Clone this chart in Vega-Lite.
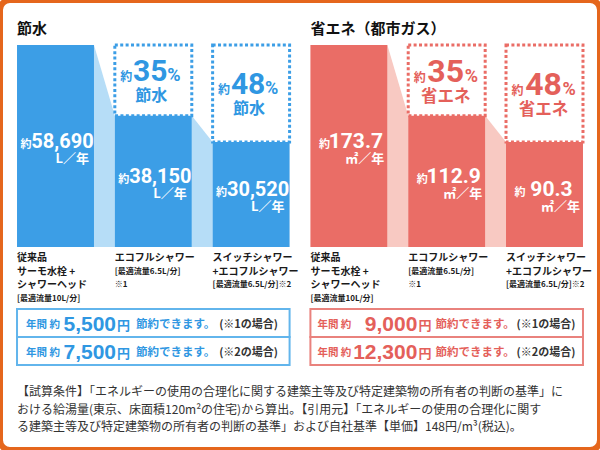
{
"$schema":"https://vega.github.io/schema/vega-lite/v6.json",
"width":600,"height":450,"padding":0,
"autosize":{"type":"fit","contains":"padding"},
"background":"#ffffff",
"config":{"view":{"stroke":"#e5661c","strokeWidth":6,"cornerRadius":10},"text":{"font":"Noto Sans CJK JP"}},
"datasets":{
"water":[
{"cat":"w1","value":58690,"base":58690,"num":"58,690","pct":""},
{"cat":"w2","value":38150,"base":58690,"num":"38,150","pct":"35"},
{"cat":"w3","value":30520,"base":58690,"num":"30,520","pct":"48"}],
"gas":[
{"cat":"g1","value":173.7,"base":173.7,"num":"173.7","pct":""},
{"cat":"g2","value":112.9,"base":173.7,"num":"112.9","pct":"35"},
{"cat":"g3","value":90.3,"base":173.7,"num":"90.3","pct":"48"}],
"labels":[
{"cat":"w1","line":1,"kind":"main","text":"従来品"},
{"cat":"w1","line":2,"kind":"main","text":"サーモ水栓 +"},
{"cat":"w1","line":3,"kind":"main","text":"シャワーヘッド"},
{"cat":"w1","line":4,"kind":"note","text":"[最適流量10L/分]"},
{"cat":"w2","line":1,"kind":"main","text":"エコフルシャワー"},
{"cat":"w2","line":2,"kind":"note","text":"[最適流量6.5L/分]"},
{"cat":"w2","line":3,"kind":"note","text":"※1"},
{"cat":"w3","line":1,"kind":"main","text":"スイッチシャワー"},
{"cat":"w3","line":2,"kind":"main","text":"+エコフルシャワー"},
{"cat":"w3","line":3,"kind":"note","text":"[最適流量6.5L/分]※2"},
{"cat":"g1","line":1,"kind":"main","text":"従来品"},
{"cat":"g1","line":2,"kind":"main","text":"サーモ水栓 +"},
{"cat":"g1","line":3,"kind":"main","text":"シャワーヘッド"},
{"cat":"g1","line":4,"kind":"note","text":"[最適流量10L/分]"},
{"cat":"g2","line":1,"kind":"main","text":"エコフルシャワー"},
{"cat":"g2","line":2,"kind":"note","text":"[最適流量6.5L/分]"},
{"cat":"g2","line":3,"kind":"note","text":"※1"},
{"cat":"g3","line":1,"kind":"main","text":"スイッチシャワー"},
{"cat":"g3","line":2,"kind":"main","text":"+エコフルシャワー"},
{"cat":"g3","line":3,"kind":"note","text":"[最適流量6.5L/分]※2"}],
"wconn":[{"pair":1,"cat":"w1","edge":1,"value":58690},{"pair":1,"cat":"w2","edge":0,"value":38150},{"pair":2,"cat":"w2","edge":1,"value":38150},{"pair":2,"cat":"w3","edge":0,"value":30520}],
"gconn":[{"pair":1,"cat":"g1","edge":1,"value":173.7},{"pair":1,"cat":"g2","edge":0,"value":112.9},{"pair":2,"cat":"g2","edge":1,"value":112.9},{"pair":2,"cat":"g3","edge":0,"value":90.3}],
"wsave":[{"case":"※1","amount":"5,500","tail":"(※1の場合)"},{"case":"※2","amount":"7,500","tail":"(※2の場合)"}],
"gsave":[{"case":"※1","amount":"9,000","tail":"(※1の場合)"},{"case":"※2","amount":"12,300","tail":"(※2の場合)"}],
"notes":[{"line":1,"text":"【試算条件】「エネルギーの使用の合理化に関する建築主等及び特定建築物の所有者の判断の基準」に"},{"line":2,"text":"おける給湯量(東京、床面積120m²の住宅)から算出。【引用元】「エネルギーの使用の合理化に関す"},{"line":3,"text":"る建築主等及び特定建築物の所有者の判断の基準」および自社基準【単価】148円/m³(税込)。"}]
},
"resolve":{"scale":{"y":"independent","xOffset":"independent"}},
"layer":[
{"data":{"name":"wconn"},"mark":{"type":"area","color":"#b6ddf7"},"encoding":{"x":{"field":"cat","type":"nominal","bandPosition":0,"scale":{"type":"band","domain":["w1","w2","w3","g1","g2","g3"],"paddingInner":0.213,"paddingOuter":0.174},"axis":null},"xOffset":{"field":"edge","type":"quantitative","scale":{"domain":[0,1]}},"y":{"field":"value","type":"quantitative","stack":null,"scale":{"domain":[-58981,71766],"nice":false,"zero":false},"axis":null},"detail":{"field":"pair","type":"nominal"}}},
{"data":{"name":"water"},"transform":[{"filter":"datum.value < datum.base"}],"mark":{"type":"rect","filled":false,"stroke":"#3c9ee6","strokeWidth":3,"strokeDash":[3,2.4]},"encoding":{"x":{"field":"cat","type":"nominal","scale":{"type":"band","domain":["w1","w2","w3","g1","g2","g3"],"paddingInner":0.213,"paddingOuter":0.174},"axis":null},"y":{"field":"value","type":"quantitative","scale":{"domain":[-58981,71766],"nice":false,"zero":false},"axis":null},"y2":{"field":"base"}}},
{"data":{"name":"water"},"mark":{"type":"bar","color":"#3c9ee6"},"encoding":{"x":{"field":"cat","type":"nominal","scale":{"type":"band","domain":["w1","w2","w3","g1","g2","g3"],"paddingInner":0.213,"paddingOuter":0.174},"axis":null},"y":{"field":"value","type":"quantitative","stack":null,"scale":{"domain":[-58981,71766],"nice":false,"zero":false},"axis":null}}},
{"data":{"name":"water"},"mark":{"type":"text","text":"約","align":"right","baseline":"alphabetic","dx":-24,"dy":2,"fontSize":11,"fontWeight":"bold","color":"#ffffff"},"encoding":{"x":{"field":"cat","type":"nominal","bandPosition":0.5,"scale":{"type":"band","domain":["w1","w2","w3","g1","g2","g3"],"paddingInner":0.213,"paddingOuter":0.174},"axis":null},"y":{"field":"value","type":"quantitative","scale":{"domain":[-117962,143532],"nice":false,"zero":false},"axis":null}}},
{"data":{"name":"water"},"mark":{"type":"text","align":"center","baseline":"alphabetic","dx":7,"dy":2,"fontSize":20,"font":"Roboto","fontWeight":"bold","color":"#ffffff"},"encoding":{"text":{"field":"num"},"x":{"field":"cat","type":"nominal","bandPosition":0.5,"scale":{"type":"band","domain":["w1","w2","w3","g1","g2","g3"],"paddingInner":0.213,"paddingOuter":0.174},"axis":null},"y":{"field":"value","type":"quantitative","scale":{"domain":[-117962,143532],"nice":false,"zero":false},"axis":null}}},
{"data":{"name":"water"},"mark":{"type":"text","text":"L／年","align":"right","baseline":"alphabetic","dx":-5,"dy":17,"fontSize":13,"fontWeight":"bold","color":"#ffffff"},"encoding":{"x":{"field":"cat","type":"nominal","bandPosition":1,"scale":{"type":"band","domain":["w1","w2","w3","g1","g2","g3"],"paddingInner":0.213,"paddingOuter":0.174},"axis":null},"y":{"field":"value","type":"quantitative","scale":{"domain":[-117962,143532],"nice":false,"zero":false},"axis":null}}},
{"data":{"name":"water"},"transform":[{"filter":"datum.pct != ''"}],"mark":{"type":"text","text":"約","align":"right","baseline":"alphabetic","dx":-21,"dy":1,"fontSize":12,"fontWeight":"bold","color":"#2f97e2"},"encoding":{"x":{"field":"cat","type":"nominal","bandPosition":0.5,"scale":{"type":"band","domain":["w1","w2","w3","g1","g2","g3"],"paddingInner":0.213,"paddingOuter":0.174},"axis":null},"y":{"field":"value","type":"quantitative","scale":{"domain":[-176652,84842],"nice":false,"zero":false},"axis":null}}},
{"data":{"name":"water"},"transform":[{"filter":"datum.pct != ''"}],"mark":{"type":"text","align":"center","baseline":"alphabetic","dx":-3,"dy":1,"fontSize":30,"font":"Roboto","fontWeight":"bold","color":"#2f97e2"},"encoding":{"text":{"field":"pct"},"x":{"field":"cat","type":"nominal","bandPosition":0.5,"scale":{"type":"band","domain":["w1","w2","w3","g1","g2","g3"],"paddingInner":0.213,"paddingOuter":0.174},"axis":null},"y":{"field":"value","type":"quantitative","scale":{"domain":[-176652,84842],"nice":false,"zero":false},"axis":null}}},
{"data":{"name":"water"},"transform":[{"filter":"datum.pct != ''"}],"mark":{"type":"text","text":"%","align":"left","baseline":"alphabetic","dx":14,"dy":1,"fontSize":18,"font":"Roboto","fontWeight":"bold","color":"#2f97e2"},"encoding":{"x":{"field":"cat","type":"nominal","bandPosition":0.5,"scale":{"type":"band","domain":["w1","w2","w3","g1","g2","g3"],"paddingInner":0.213,"paddingOuter":0.174},"axis":null},"y":{"field":"value","type":"quantitative","scale":{"domain":[-176652,84842],"nice":false,"zero":false},"axis":null}}},
{"data":{"name":"water"},"transform":[{"filter":"datum.pct != ''"}],"mark":{"type":"text","text":"節水","align":"center","baseline":"middle","dx":-2,"dy":16,"fontSize":16,"fontWeight":"bold","color":"#2f97e2"},"encoding":{"x":{"field":"cat","type":"nominal","bandPosition":0.5,"scale":{"type":"band","domain":["w1","w2","w3","g1","g2","g3"],"paddingInner":0.213,"paddingOuter":0.174},"axis":null},"y":{"field":"value","type":"quantitative","scale":{"domain":[-176652,84842],"nice":false,"zero":false},"axis":null}}},
{"data":{"values":[{"t":"節水"}]},"mark":{"type":"text","align":"left","baseline":"middle","dy":-16,"fontSize":15,"fontWeight":"bold","color":"#111111"},"encoding":{"text":{"field":"t"},"x":{"datum":"w1","type":"nominal","bandPosition":0,"scale":{"type":"band","domain":["w1","w2","w3","g1","g2","g3"],"paddingInner":0.213,"paddingOuter":0.174},"axis":null},"y":{"datum":58690,"type":"quantitative","scale":{"domain":[-58981,71766],"nice":false,"zero":false},"axis":null}}},
{"data":{"name":"wsave"},"mark":{"type":"rect","fill":"#ffffff","stroke":"#62b5ec","strokeWidth":2},"encoding":{"x":{"datum":"w1","type":"nominal","bandPosition":0,"scale":{"type":"band","domain":["w1","w2","w3","g1","g2","g3"],"paddingInner":0.213,"paddingOuter":0.174},"axis":null},"x2":{"datum":"w3","bandPosition":1},"y":{"field":"case","type":"nominal","scale":{"type":"band","domain":["※1","※2"],"range":[309,365],"paddingInner":0,"paddingOuter":0},"axis":null}}},
{"data":{"name":"wsave"},"mark":{"type":"text","text":"年間 約","align":"left","baseline":"middle","dx":9,"dy":2,"fontSize":10.5,"fontWeight":"bold","color":"#2f97e2"},"encoding":{"x":{"datum":"w1","type":"nominal","bandPosition":0,"scale":{"type":"band","domain":["w1","w2","w3","g1","g2","g3"],"paddingInner":0.213,"paddingOuter":0.174},"axis":null},"y":{"field":"case","type":"nominal","scale":{"type":"band","domain":["※1","※2"],"range":[309,365],"paddingInner":0,"paddingOuter":0},"axis":null}}},
{"data":{"name":"wsave"},"mark":{"type":"text","align":"right","baseline":"alphabetic","dx":99,"dy":8,"fontSize":21,"font":"Liberation Sans, sans-serif","fontWeight":"bold","color":"#2f97e2"},"encoding":{"text":{"field":"amount"},"x":{"datum":"w1","type":"nominal","bandPosition":0,"scale":{"type":"band","domain":["w1","w2","w3","g1","g2","g3"],"paddingInner":0.213,"paddingOuter":0.174},"axis":null},"y":{"field":"case","type":"nominal","scale":{"type":"band","domain":["※1","※2"],"range":[309,365],"paddingInner":0,"paddingOuter":0},"axis":null}}},
{"data":{"name":"wsave"},"mark":{"type":"text","text":"円","align":"left","baseline":"alphabetic","dx":100,"dy":7,"fontSize":13,"fontWeight":"bold","color":"#2f97e2"},"encoding":{"x":{"datum":"w1","type":"nominal","bandPosition":0,"scale":{"type":"band","domain":["w1","w2","w3","g1","g2","g3"],"paddingInner":0.213,"paddingOuter":0.174},"axis":null},"y":{"field":"case","type":"nominal","scale":{"type":"band","domain":["※1","※2"],"range":[309,365],"paddingInner":0,"paddingOuter":0},"axis":null}}},
{"data":{"name":"wsave"},"mark":{"type":"text","text":"節約できます。","align":"left","baseline":"middle","dx":119,"dy":2,"fontSize":11.5,"fontWeight":"bold","color":"#2f97e2"},"encoding":{"x":{"datum":"w1","type":"nominal","bandPosition":0,"scale":{"type":"band","domain":["w1","w2","w3","g1","g2","g3"],"paddingInner":0.213,"paddingOuter":0.174},"axis":null},"y":{"field":"case","type":"nominal","scale":{"type":"band","domain":["※1","※2"],"range":[309,365],"paddingInner":0,"paddingOuter":0},"axis":null}}},
{"data":{"name":"wsave"},"mark":{"type":"text","align":"right","baseline":"middle","dx":261,"dy":2,"fontSize":11,"fontWeight":"bold","color":"#333333"},"encoding":{"text":{"field":"tail"},"x":{"datum":"w1","type":"nominal","bandPosition":0,"scale":{"type":"band","domain":["w1","w2","w3","g1","g2","g3"],"paddingInner":0.213,"paddingOuter":0.174},"axis":null},"y":{"field":"case","type":"nominal","scale":{"type":"band","domain":["※1","※2"],"range":[309,365],"paddingInner":0,"paddingOuter":0},"axis":null}}},

{"data":{"name":"gconn"},"mark":{"type":"area","color":"#f8c9c2"},"encoding":{"x":{"field":"cat","type":"nominal","bandPosition":0,"scale":{"type":"band","domain":["w1","w2","w3","g1","g2","g3"],"paddingInner":0.213,"paddingOuter":0.174},"axis":null},"xOffset":{"field":"edge","type":"quantitative","scale":{"domain":[0,1]}},"y":{"field":"value","type":"quantitative","stack":null,"scale":{"domain":[-174.56,212.39],"nice":false,"zero":false},"axis":null},"detail":{"field":"pair","type":"nominal"}}},
{"data":{"name":"gas"},"transform":[{"filter":"datum.value < datum.base"}],"mark":{"type":"rect","filled":false,"stroke":"#ea6d66","strokeWidth":3,"strokeDash":[3,2.4]},"encoding":{"x":{"field":"cat","type":"nominal","scale":{"type":"band","domain":["w1","w2","w3","g1","g2","g3"],"paddingInner":0.213,"paddingOuter":0.174},"axis":null},"y":{"field":"value","type":"quantitative","scale":{"domain":[-174.56,212.39],"nice":false,"zero":false},"axis":null},"y2":{"field":"base"}}},
{"data":{"name":"gas"},"mark":{"type":"bar","color":"#ea6d66"},"encoding":{"x":{"field":"cat","type":"nominal","scale":{"type":"band","domain":["w1","w2","w3","g1","g2","g3"],"paddingInner":0.213,"paddingOuter":0.174},"axis":null},"y":{"field":"value","type":"quantitative","stack":null,"scale":{"domain":[-174.56,212.39],"nice":false,"zero":false},"axis":null}}},
{"data":{"name":"gas"},"mark":{"type":"text","text":"約","align":"right","baseline":"alphabetic","dx":-19,"dy":2,"fontSize":11,"fontWeight":"bold","color":"#ffffff"},"encoding":{"x":{"field":"cat","type":"nominal","bandPosition":0.5,"scale":{"type":"band","domain":["w1","w2","w3","g1","g2","g3"],"paddingInner":0.213,"paddingOuter":0.174},"axis":null},"y":{"field":"value","type":"quantitative","scale":{"domain":[-349.12,424.78],"nice":false,"zero":false},"axis":null}}},
{"data":{"name":"gas"},"mark":{"type":"text","align":"center","baseline":"alphabetic","dx":7,"dy":2,"fontSize":21,"font":"Roboto","fontWeight":"bold","color":"#ffffff"},"encoding":{"text":{"field":"num"},"x":{"field":"cat","type":"nominal","bandPosition":0.5,"scale":{"type":"band","domain":["w1","w2","w3","g1","g2","g3"],"paddingInner":0.213,"paddingOuter":0.174},"axis":null},"y":{"field":"value","type":"quantitative","scale":{"domain":[-349.12,424.78],"nice":false,"zero":false},"axis":null}}},
{"data":{"name":"gas"},"mark":{"type":"text","text":"㎡／年","align":"right","baseline":"alphabetic","dx":-3,"dy":17,"fontSize":13,"fontWeight":"bold","color":"#ffffff"},"encoding":{"x":{"field":"cat","type":"nominal","bandPosition":1,"scale":{"type":"band","domain":["w1","w2","w3","g1","g2","g3"],"paddingInner":0.213,"paddingOuter":0.174},"axis":null},"y":{"field":"value","type":"quantitative","scale":{"domain":[-349.12,424.78],"nice":false,"zero":false},"axis":null}}},
{"data":{"name":"gas"},"transform":[{"filter":"datum.pct != ''"}],"mark":{"type":"text","text":"約","align":"right","baseline":"alphabetic","dx":-21,"dy":2,"fontSize":12,"fontWeight":"bold","color":"#e4605a"},"encoding":{"x":{"field":"cat","type":"nominal","bandPosition":0.5,"scale":{"type":"band","domain":["w1","w2","w3","g1","g2","g3"],"paddingInner":0.213,"paddingOuter":0.174},"axis":null},"y":{"field":"value","type":"quantitative","scale":{"domain":[-522.82,251.08],"nice":false,"zero":false},"axis":null}}},
{"data":{"name":"gas"},"transform":[{"filter":"datum.pct != ''"}],"mark":{"type":"text","align":"center","baseline":"alphabetic","dx":-1,"dy":2,"fontSize":32,"font":"Roboto","fontWeight":"bold","color":"#e4605a"},"encoding":{"text":{"field":"pct"},"x":{"field":"cat","type":"nominal","bandPosition":0.5,"scale":{"type":"band","domain":["w1","w2","w3","g1","g2","g3"],"paddingInner":0.213,"paddingOuter":0.174},"axis":null},"y":{"field":"value","type":"quantitative","scale":{"domain":[-522.82,251.08],"nice":false,"zero":false},"axis":null}}},
{"data":{"name":"gas"},"transform":[{"filter":"datum.pct != ''"}],"mark":{"type":"text","text":"%","align":"left","baseline":"alphabetic","dx":18,"dy":2,"fontSize":18,"font":"Roboto","fontWeight":"bold","color":"#e4605a"},"encoding":{"x":{"field":"cat","type":"nominal","bandPosition":0.5,"scale":{"type":"band","domain":["w1","w2","w3","g1","g2","g3"],"paddingInner":0.213,"paddingOuter":0.174},"axis":null},"y":{"field":"value","type":"quantitative","scale":{"domain":[-522.82,251.08],"nice":false,"zero":false},"axis":null}}},
{"data":{"name":"gas"},"transform":[{"filter":"datum.pct != ''"}],"mark":{"type":"text","text":"省エネ","align":"center","baseline":"middle","dx":-1,"dy":17,"fontSize":16.5,"fontWeight":"bold","color":"#e4605a"},"encoding":{"x":{"field":"cat","type":"nominal","bandPosition":0.5,"scale":{"type":"band","domain":["w1","w2","w3","g1","g2","g3"],"paddingInner":0.213,"paddingOuter":0.174},"axis":null},"y":{"field":"value","type":"quantitative","scale":{"domain":[-522.82,251.08],"nice":false,"zero":false},"axis":null}}},
{"data":{"values":[{"t":"省エネ（都市ガス）"}]},"mark":{"type":"text","align":"left","baseline":"middle","dy":-16,"fontSize":15,"fontWeight":"bold","color":"#111111"},"encoding":{"text":{"field":"t"},"x":{"datum":"g1","type":"nominal","bandPosition":0,"scale":{"type":"band","domain":["w1","w2","w3","g1","g2","g3"],"paddingInner":0.213,"paddingOuter":0.174},"axis":null},"y":{"datum":173.7,"type":"quantitative","scale":{"domain":[-174.56,212.39],"nice":false,"zero":false},"axis":null}}},
{"data":{"name":"gsave"},"mark":{"type":"rect","fill":"#ffffff","stroke":"#e9827d","strokeWidth":2},"encoding":{"x":{"datum":"g1","type":"nominal","bandPosition":0,"scale":{"type":"band","domain":["w1","w2","w3","g1","g2","g3"],"paddingInner":0.213,"paddingOuter":0.174},"axis":null},"x2":{"datum":"g3","bandPosition":1},"y":{"field":"case","type":"nominal","scale":{"type":"band","domain":["※1","※2"],"range":[309,365],"paddingInner":0,"paddingOuter":0},"axis":null}}},
{"data":{"name":"gsave"},"mark":{"type":"text","text":"年間  約","align":"left","baseline":"middle","dx":7,"dy":2,"fontSize":10.5,"fontWeight":"bold","color":"#e4605a"},"encoding":{"x":{"datum":"g1","type":"nominal","bandPosition":0,"scale":{"type":"band","domain":["w1","w2","w3","g1","g2","g3"],"paddingInner":0.213,"paddingOuter":0.174},"axis":null},"y":{"field":"case","type":"nominal","scale":{"type":"band","domain":["※1","※2"],"range":[309,365],"paddingInner":0,"paddingOuter":0},"axis":null}}},
{"data":{"name":"gsave"},"mark":{"type":"text","align":"right","baseline":"alphabetic","dx":107,"dy":8,"fontSize":21,"font":"Liberation Sans, sans-serif","fontWeight":"bold","color":"#e4605a"},"encoding":{"text":{"field":"amount"},"x":{"datum":"g1","type":"nominal","bandPosition":0,"scale":{"type":"band","domain":["w1","w2","w3","g1","g2","g3"],"paddingInner":0.213,"paddingOuter":0.174},"axis":null},"y":{"field":"case","type":"nominal","scale":{"type":"band","domain":["※1","※2"],"range":[309,365],"paddingInner":0,"paddingOuter":0},"axis":null}}},
{"data":{"name":"gsave"},"mark":{"type":"text","text":"円","align":"left","baseline":"alphabetic","dx":108,"dy":7,"fontSize":13,"fontWeight":"bold","color":"#e4605a"},"encoding":{"x":{"datum":"g1","type":"nominal","bandPosition":0,"scale":{"type":"band","domain":["w1","w2","w3","g1","g2","g3"],"paddingInner":0.213,"paddingOuter":0.174},"axis":null},"y":{"field":"case","type":"nominal","scale":{"type":"band","domain":["※1","※2"],"range":[309,365],"paddingInner":0,"paddingOuter":0},"axis":null}}},
{"data":{"name":"gsave"},"mark":{"type":"text","text":"節約できます。","align":"left","baseline":"middle","dx":125,"dy":2,"fontSize":11.5,"fontWeight":"bold","color":"#e4605a"},"encoding":{"x":{"datum":"g1","type":"nominal","bandPosition":0,"scale":{"type":"band","domain":["w1","w2","w3","g1","g2","g3"],"paddingInner":0.213,"paddingOuter":0.174},"axis":null},"y":{"field":"case","type":"nominal","scale":{"type":"band","domain":["※1","※2"],"range":[309,365],"paddingInner":0,"paddingOuter":0},"axis":null}}},
{"data":{"name":"gsave"},"mark":{"type":"text","align":"right","baseline":"middle","dx":265,"dy":2,"fontSize":11,"fontWeight":"bold","color":"#333333"},"encoding":{"text":{"field":"tail"},"x":{"datum":"g1","type":"nominal","bandPosition":0,"scale":{"type":"band","domain":["w1","w2","w3","g1","g2","g3"],"paddingInner":0.213,"paddingOuter":0.174},"axis":null},"y":{"field":"case","type":"nominal","scale":{"type":"band","domain":["※1","※2"],"range":[309,365],"paddingInner":0,"paddingOuter":0},"axis":null}}},

{"data":{"name":"labels"},"mark":{"type":"text","align":"left","baseline":"middle","fontWeight":"bold","color":"#1a1a1a"},"encoding":{"text":{"field":"text"},"size":{"field":"kind","type":"nominal","scale":{"domain":["main","note"],"range":[10,8]},"legend":null},"x":{"field":"cat","type":"nominal","bandPosition":0,"scale":{"type":"band","domain":["w1","w2","w3","g1","g2","g3"],"paddingInner":0.213,"paddingOuter":0.174},"axis":null},"y":{"field":"line","type":"ordinal","scale":{"type":"point","domain":[1,2,3,4],"range":[258,299],"padding":0},"axis":null}}},
{"data":{"name":"notes"},"mark":{"type":"text","align":"left","baseline":"middle","fontSize":12,"color":"#333333"},"encoding":{"text":{"field":"text"},"x":{"datum":"w1","type":"nominal","bandPosition":0,"scale":{"type":"band","domain":["w1","w2","w3","g1","g2","g3"],"paddingInner":0.213,"paddingOuter":0.174},"axis":null},"y":{"field":"line","type":"ordinal","scale":{"type":"point","domain":[1,2,3],"range":[392,427],"padding":0},"axis":null}}}
]
}
